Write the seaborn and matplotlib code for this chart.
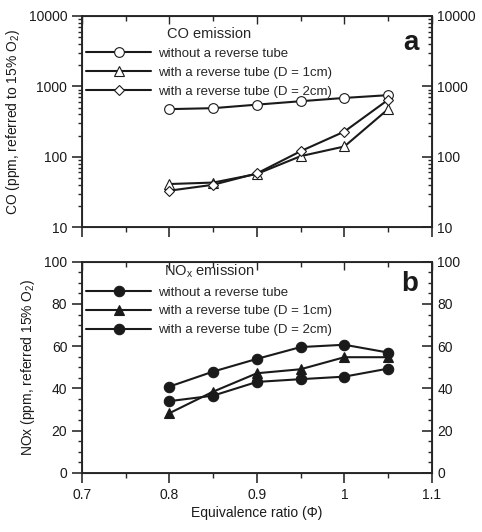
import numpy as np
import pandas as pd
import matplotlib
import matplotlib.pyplot as plt
import matplotlib.ticker as mticker
import seaborn as sns

matplotlib.use("Agg")

# -----------------------------------------------------------------------
# Data
# -----------------------------------------------------------------------
PHI = [0.8, 0.85, 0.9, 0.95, 1.0, 1.05]

CO_WITHOUT = [475, 490, 550, 615, 685, 750]
CO_D1 = [41, 43, 57, 102, 140, 475]
CO_D2 = [33, 40, 58, 120, 228, 645]

NOX_WITHOUT = [40.9, 48.0, 54.0, 59.6, 60.7, 57.0]
NOX_D1 = [28.3, 38.5, 47.2, 49.1, 54.8, 54.8]
NOX_D2 = [34.0, 36.6, 43.1, 44.4, 45.6, 49.4]

LABELS = [
    "without a reverse tube",
    "with a reverse tube (D = 1cm)",
    "with a reverse tube (D = 2cm)",
]

sns.set_style("ticks")
plt.rcParams["font.family"] = ["Liberation Sans", "DejaVu Sans"]
plt.rcParams["mathtext.fontset"] = "custom"
plt.rcParams["mathtext.rm"] = "Liberation Sans"
plt.rcParams["mathtext.it"] = "Liberation Sans"

FS = 10
INK = "#1a1a1a"


def style_axes(ax, minor_y):
    for s in ax.spines.values():
        s.set_linewidth(1.1)
        s.set_visible(True)
    ax.set_xlim(0.7, 1.1)
    ax.xaxis.set_major_locator(mticker.MultipleLocator(0.1))
    ax.xaxis.set_minor_locator(mticker.MultipleLocator(0.05))
    ax.tick_params(axis="both", which="major", direction="out", length=7,
                   width=1.1, labelsize=FS, colors=INK)
    ax.tick_params(axis="both", which="minor", direction="out", length=3.5, width=1.0)
    ax.tick_params(axis="y", which="minor", length=3)

    # right twin with inward ticks and labels
    axr = ax.twinx()
    axr.set_yscale(ax.get_yscale())
    axr.set_ylim(ax.get_ylim())
    axr.yaxis.set_major_locator(ax.yaxis.get_major_locator())
    axr.yaxis.set_major_formatter(ax.yaxis.get_major_formatter())
    if minor_y is not None:
        axr.yaxis.set_minor_locator(minor_y)
    axr.tick_params(axis="y", which="major", direction="in", length=7, width=1.1,
                    labelsize=FS, pad=4, colors=INK)
    axr.tick_params(axis="y", which="minor", direction="in", length=3, width=1.0)
    axr.yaxis.set_minor_formatter(mticker.NullFormatter())
    for s in axr.spines.values():
        s.set_linewidth(1.1)

    # top twin with inward ticks
    axt = ax.twiny()
    axt.set_xlim(ax.get_xlim())
    axt.xaxis.set_major_locator(mticker.MultipleLocator(0.1))
    axt.xaxis.set_minor_locator(mticker.MultipleLocator(0.05))
    axt.tick_params(axis="x", which="major", direction="in", length=6, width=1.0,
                    labeltop=False)
    axt.tick_params(axis="x", which="minor", direction="in", length=3.5, width=1.0)
    axt.set_xticklabels([])


def draw_series(ax, y, marker, label, filled, ms):
    df = pd.DataFrame({"phi": PHI, "val": y})
    sns.lineplot(data=df, x="phi", y="val", ax=ax, color=INK,
                 marker=marker, markersize=ms, linewidth=1.5, label=label,
                 markerfacecolor=INK if filled else "white",
                 markeredgecolor=INK, markeredgewidth=0.8)


def add_legend(ax, title, y_anchor):
    ax.legend(loc="upper left", bbox_to_anchor=(-0.01, y_anchor), frameon=False,
              title=title, fontsize=9.5, title_fontsize=10.5,
              handlelength=4.9, handletextpad=0.5, labelspacing=0.5,
              borderaxespad=0.2)


fig = plt.figure(figsize=(4.82, 5.32), dpi=100)
ax1 = fig.add_axes([0.170, 0.573, 0.726, 0.397])
ax2 = fig.add_axes([0.170, 0.111, 0.726, 0.397])

# -----------------------------------------------------------------------
# (a) CO
# -----------------------------------------------------------------------
draw_series(ax1, CO_WITHOUT, "o", LABELS[0], False, 7)
draw_series(ax1, CO_D1, "^", LABELS[1], False, 7)
draw_series(ax1, CO_D2, "D", LABELS[2], False, 5.5)
ax1.set_yscale("log")
ax1.set_ylim(10, 10000)
ax1.yaxis.set_major_locator(mticker.LogLocator(base=10, numticks=10))
ax1.yaxis.set_major_formatter(mticker.FuncFormatter(lambda v, p: f"{v:g}"))
ax1.yaxis.set_minor_formatter(mticker.NullFormatter())
ax1.set_xlabel("")
ax1.set_xticklabels([])
ax1.set_ylabel("CO (ppm, referred to 15% O$_2$)", fontsize=FS, labelpad=5, color=INK)
add_legend(ax1, "CO emission", 0.985)
ax1.text(0.962, 0.935, "a", transform=ax1.transAxes, fontsize=20,
         fontweight="bold", ha="right", va="top", color=INK)
style_axes(ax1, mticker.LogLocator(base=10, subs=np.arange(2, 10), numticks=10))

# -----------------------------------------------------------------------
# (b) NOx
# -----------------------------------------------------------------------
draw_series(ax2, NOX_WITHOUT, "o", LABELS[0], True, 7.5)
draw_series(ax2, NOX_D1, "^", LABELS[1], True, 6.5)
draw_series(ax2, NOX_D2, "o", LABELS[2], True, 7.5)
ax2.set_ylim(0, 100)
ax2.yaxis.set_major_locator(mticker.MultipleLocator(20))
ax2.yaxis.set_minor_locator(mticker.MultipleLocator(5))
ax2.yaxis.set_major_formatter(mticker.FuncFormatter(lambda v, p: f"{v:g}"))
ax2.xaxis.set_major_formatter(mticker.FuncFormatter(lambda v, p: f"{v:g}"))
ax2.set_xlabel("Equivalence ratio (\u03a6)", fontsize=FS, labelpad=3, color=INK)
ax2.set_ylabel("NOx (ppm, referred 15% O$_2$)", fontsize=FS, labelpad=5, color=INK)
add_legend(ax2, "NO$_x$ emission", 1.035)
ax2.text(0.962, 0.955, "b", transform=ax2.transAxes, fontsize=20,
         fontweight="bold", ha="right", va="top", color=INK)
style_axes(ax2, mticker.MultipleLocator(5))

fig.savefig("out.png", dpi=100)
plt.close(fig)
